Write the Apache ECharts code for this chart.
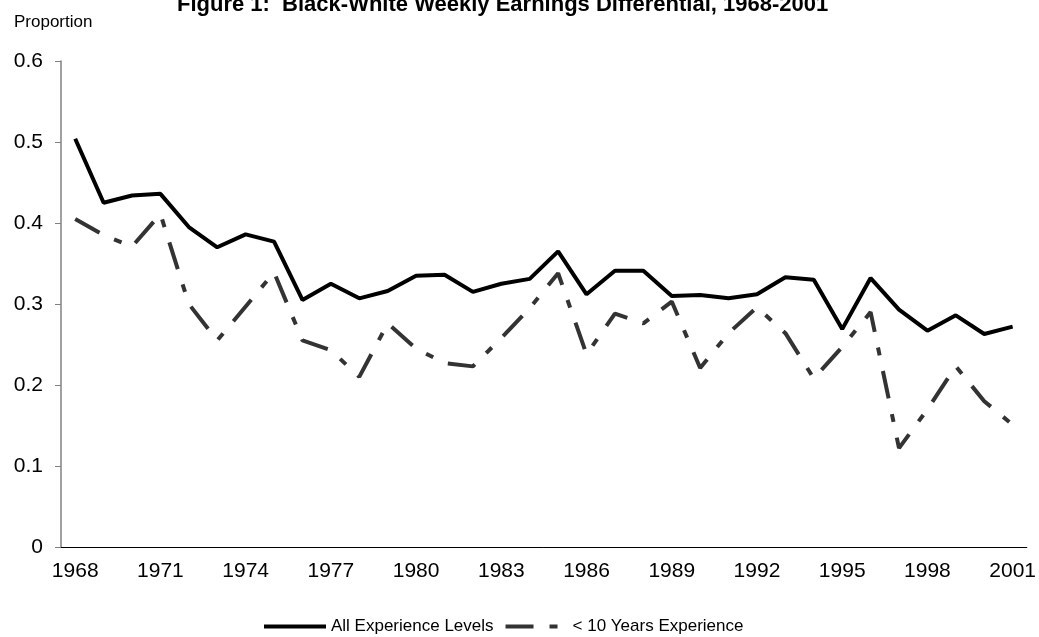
<!DOCTYPE html>
<html>
<head>
<meta charset="utf-8">
<script src="https://cdn.jsdelivr.net/npm/echarts@6/dist/echarts.min.js"></script>
<style>
  html, body { margin: 0; padding: 0; background: #fff; }
  #chart { width: 1039px; height: 637px; }
</style>
</head>
<body>
<div id="chart"></div>
<script>
// chart data
const years = ['1968', '1969', '1970', '1971', '1972', '1973', '1974', '1975', '1976', '1977',
  '1978', '1979', '1980', '1981', '1982', '1983', '1984', '1985', '1986', '1987',
  '1988', '1989', '1990', '1991', '1992', '1993', '1994', '1995', '1996', '1997',
  '1998', '1999', '2000', '2001']
const allLevels = [0.504, 0.425, 0.434, 0.436, 0.395, 0.370, 0.386, 0.377, 0.305, 0.325,
  0.307, 0.316, 0.335, 0.336, 0.315, 0.325, 0.331, 0.365, 0.312, 0.341,
  0.341, 0.310, 0.311, 0.307, 0.312, 0.333, 0.330, 0.269, 0.332, 0.293,
  0.267, 0.286, 0.263, 0.272]
const under10 = [0.405, 0.385, 0.371, 0.411, 0.300, 0.255, 0.297, 0.339, 0.255, 0.243,
  0.210, 0.276, 0.245, 0.227, 0.223, 0.258, 0.295, 0.338, 0.238, 0.288,
  0.276, 0.303, 0.221, 0.264, 0.296, 0.264, 0.208, 0.247, 0.290, 0.122,
  0.170, 0.223, 0.180, 0.151]
const yTicks = [0, 0.1, 0.2, 0.3, 0.4, 0.5, 0.6]

const font = 'Liberation Sans, Arial, sans-serif'
const chart = echarts.init(document.getElementById('chart'))

const option = {
  animation: false,
  backgroundColor: '#fff',
  title: {
    text: 'Figure 1:  Black-White Weekly Earnings Differential, 1968-2001',
    left: 177,
    top: -6,
    padding: 0,
    textStyle: { fontFamily: font, fontSize: 22, fontWeight: 'bold', color: '#000' }
  },
  graphic: [
    {
      type: 'text',
      left: 14,
      top: 14,
      style: { text: 'Proportion', font: '17px ' + font, fill: '#000' }
    }
  ],
  legend: {
    top: 618,
    left: 262,
    padding: 0,
    itemWidth: 62,
    itemHeight: 2,
    itemGap: 10,
    itemStyle: { color: 'rgba(0,0,0,0)', borderWidth: 0 },
    lineStyle: { width: 4 },
    textStyle: { fontFamily: font, fontSize: 17, color: '#000' },
    data: ['All Experience Levels', '< 10 Years Experience']
  },
  grid: { left: 61, right: 12, top: 61, bottom: 90, containLabel: false },
  xAxis: {
    type: 'category',
    data: years,
    boundaryGap: true,
    axisLine: { lineStyle: { color: '#000', width: 1 } },
    axisTick: { interval: 2, length: 6, lineStyle: { color: '#000' } },
    axisLabel: { interval: 2, fontFamily: font, fontSize: 21, color: '#000', margin: 14 },
    splitLine: { show: false }
  },
  yAxis: {
    type: 'value',
    min: yTicks[0],
    max: yTicks[yTicks.length - 1],
    interval: 0.1,
    axisLine: { show: true, lineStyle: { color: '#808080', width: 1.5 } },
    axisTick: { show: true, length: 6, lineStyle: { color: '#808080' } },
    axisLabel: {
      fontFamily: font,
      fontSize: 21,
      color: '#000',
      margin: 18,
      formatter: function(v) {
        return v === 0 ? '0' : v.toFixed(1)
      }
    },
    splitLine: { show: false }
  },
  series: [
    {
      name: 'All Experience Levels',
      type: 'line',
      symbol: 'none',
      color: '#000',
      lineStyle: { color: '#000', width: 4 },
      data: allLevels
    },
    {
      name: '< 10 Years Experience',
      type: 'line',
      symbol: 'none',
      color: '#333',
      lineStyle: { color: '#333', width: 4, type: [28, 16, 8, 16], cap: 'butt' },
      data: under10
    }
  ]
}
chart.setOption(option)
</script>
</body>
</html>
